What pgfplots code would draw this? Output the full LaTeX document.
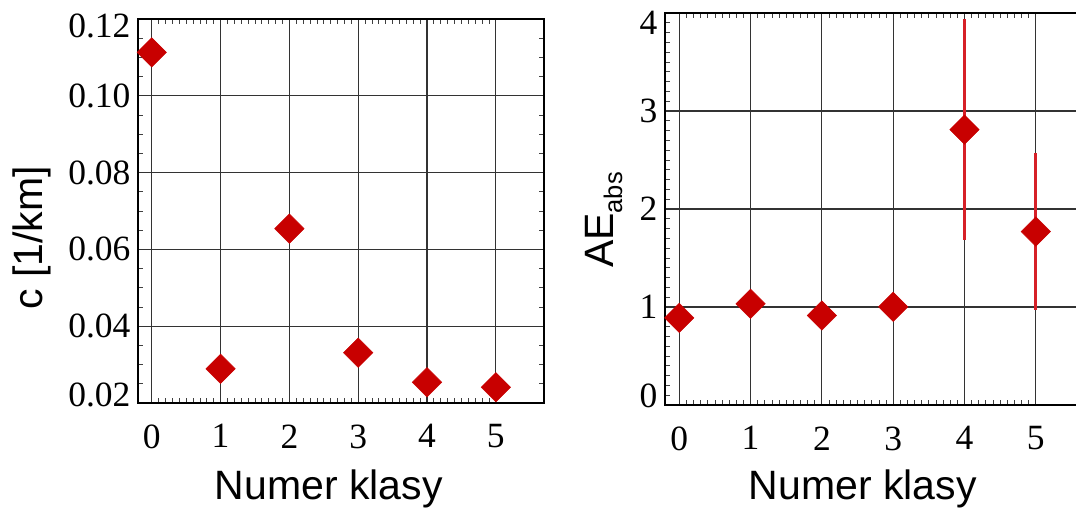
\documentclass[border=0pt]{standalone}
\usepackage{fontspec}
\setmainfont{Liberation Serif}
\setsansfont{Liberation Sans}
\usepackage{pgfplots}
\usepackage{pgfplotstable}
\pgfplotsset{compat=1.18}

\definecolor{markred}{RGB}{200,0,0}
\definecolor{barred}{RGB}{214,32,40}

% c per class
\pgfplotstableread{
x y
0 0.1113
1 0.0289
2 0.0654
3 0.0331
4 0.0254
5 0.0241
}\ctable

% AE_abs per class
\pgfplotstableread{
x y
0 0.889
1 1.032
2 0.913
3 1.002
4 2.81
5 1.77
}\aetable

\pgfplotstableread{
x y e
4 2.81 1.13
5 1.77 0.80
}\aeerr

\newcommand{\labfont}{\sffamily\fontsize{41}{41}\selectfont}

\pgfplotsset{
  klasy/.style={
    scale only axis,
    anchor=south west,
    xmin=-0.2, xmax=5.7,
    xtick={0,...,5},
    xticklabels={0,1,2,3,4,5},
    minor x tick num=9,
    grid=major,
    major grid style={black!80, line width=1.2pt},
    axis line style={black, line width=1.4pt},
    major tick length=0pt,
    minor tick length=5pt,
    minor tick style={black!75, line width=0.8pt},
    tick align=inside,
    tick label style={font=\fontsize{35.5}{35.5}\selectfont},
    xticklabel style={yshift=-18pt},
    yticklabel style={xshift=-4pt},
    clip=false,
  },
  diam/.style={only marks, mark=square*, mark size=10.4pt,
    mark options={rotate=45, fill=markred, draw=markred, line width=0.5pt}},
}

\begin{document}
\begin{tikzpicture}[x=1pt,y=1pt]
\begin{axis}[klasy,
  at={(138pt,107pt)}, width=406pt, height=384pt,
  ymin=0.02, ymax=0.12,
  ytick={0.02,0.04,0.06,0.08,0.10,0.12},
  yticklabels={{\raisebox{8pt}[\height][\depth]{0.02}},0.04,0.06,0.08,0.10,{\raisebox{-7pt}[\height][\depth]{0.12}}},
  minor y tick num=3,
  xlabel={Numer klasy},
  ylabel={c [1/km]},
  every axis x label/.style={at={(axis description cs:0.47,-0.2526)}, anchor=base, font=\labfont},
  every axis y label/.style={at={(axis description cs:-0.234,0.43)}, rotate=90, anchor=base, font=\labfont},
]
\addplot[diam] table[x=x, y=y] {\ctable};
\end{axis}

\begin{axis}[klasy,
  at={(665pt,105pt)}, width=420.7pt, height=392pt,
  ymin=0, ymax=4,
  ytick={0,1,2,3,4},
  yticklabels={{\raisebox{9pt}[\height][\depth]{0}},1,2,3,{\raisebox{-10pt}[\height][\depth]{4}}},
  minor y tick num=9,
  xlabel={Numer klasy},
  ylabel={AE\raisebox{-9pt}{\fontsize{25.5}{25.5}\selectfont abs}},
  every axis x label/.style={at={(axis description cs:0.47,-0.242)}, anchor=base, font=\labfont},
  every axis y label/.style={at={(axis description cs:-0.1235,0.472)}, rotate=90, anchor=base, font=\labfont},
]
\addplot[only marks, mark=none,
  error bars/.cd, y dir=both, y explicit, error mark=none,
  error bar style={barred, line width=2.6pt}]
  table[x=x, y=y, y error=e] {\aeerr};
\addplot[diam] table[x=x, y=y] {\aetable};
\end{axis}
\pgfresetboundingbox
\useasboundingbox (0,0) rectangle (1076,510);
\end{tikzpicture}
\end{document}
